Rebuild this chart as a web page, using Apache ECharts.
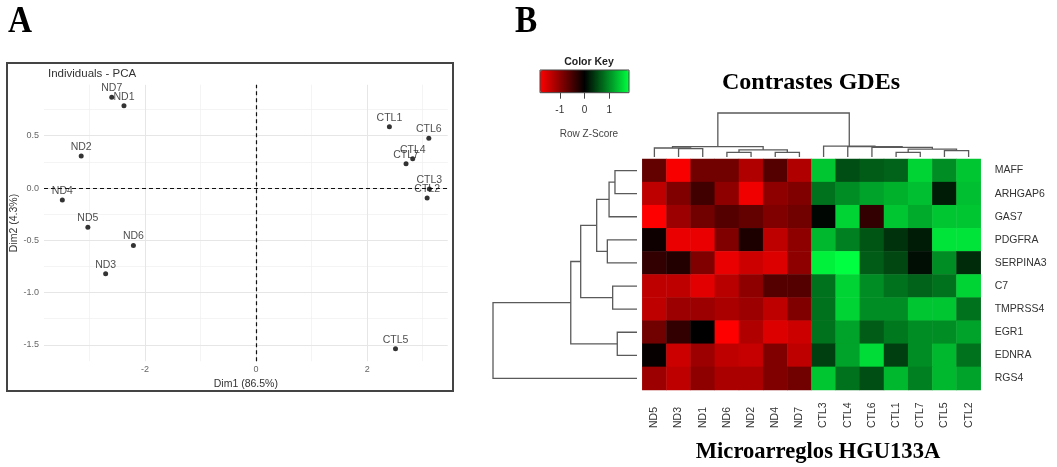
<!DOCTYPE html>
<html><head><meta charset="utf-8">
<script src="https://cdn.jsdelivr.net/npm/echarts@6/dist/echarts.min.js"></script>
<style>html,body{margin:0;padding:0;background:#fff}#c{width:1057px;height:467px}</style>
</head><body><div id="c"></div>
<script>
// ---------- Panel A: PCA ----------
const pcaLabels = ['ND7','ND1','ND2','ND4','ND5','ND6','ND3','CTL1','CTL6','CTL4','CTL7','CTL3','CTL2','CTL5'];
const pcaDim1 = [-2.60,-2.38,-3.15,-3.49,-3.03,-2.21,-2.71,2.40,3.11,2.82,2.70,3.12,3.08,2.51];
const pcaDim2 = [0.867,0.787,0.306,-0.115,-0.376,-0.55,-0.82,0.586,0.475,0.28,0.232,-0.01,-0.096,-1.536];
const pcaXRange = [-3.82, 3.45];
const pcaYRange = [-1.656, 0.987];
const pcaXTicks = [-2, 0, 2];
const pcaYTicks = [-1.5, -1, -0.5, 0, 0.5];
const pcaXMinor = [-3, -1, 1, 3];
const pcaYMinor = [-1.25, -0.75, -0.25, 0.25, 0.75];

// ---------- Panel B: heatmap ----------
const colLabels = ['ND5','ND3','ND1','ND6','ND2','ND4','ND7','CTL3','CTL4','CTL6','CTL1','CTL7','CTL5','CTL2'];
const rowLabels = ['MAFF','ARHGAP6','GAS7','PDGFRA','SERPINA3','C7','TMPRSS4','EGR1','EDNRA','RGS4'];
const zMAFF     = [-0.7,-1.75,-0.8,-0.8,-1.25,-0.6,-1.25, 1.4,0.55,0.65,0.7,1.5,1.0,1.4];
const zARHGAP6  = [-1.35,-0.9,-0.45,-1.0,-1.7,-1.0,-0.9, 0.8,1.0,1.15,1.25,1.35,0.2,1.35];
const zGAS7     = [-1.8,-1.1,-0.8,-0.6,-0.7,-0.9,-0.8, 0.05,1.5,-0.35,1.4,1.2,1.4,1.4];
const zPDGFRA   = [-0.1,-1.65,-1.65,-0.9,-0.2,-1.35,-1.0, 1.3,0.9,0.6,0.35,0.2,1.6,1.6];
const zSERPINA3 = [-0.35,-0.25,-0.9,-1.65,-1.45,-1.55,-1.0, 1.7,1.8,0.65,0.5,0.1,1.0,0.3];
const zC7       = [-1.35,-1.35,-1.6,-1.3,-1.0,-0.6,-0.6, 0.8,1.5,1.0,0.8,0.7,0.8,1.5];
const zTMPRSS4  = [-1.35,-1.1,-1.1,-1.2,-1.1,-1.35,-0.9, 0.8,1.5,1.0,1.0,1.4,1.4,0.8];
const zEGR1     = [-0.8,-0.35,0.0,-1.8,-1.25,-1.55,-1.45, 0.8,1.15,0.65,0.85,1.0,1.0,1.15];
const zEDNRA    = [-0.05,-1.45,-1.1,-1.35,-1.4,-0.9,-1.35, 0.45,1.15,1.55,0.45,1.0,1.3,0.8];
const zRGS4     = [-1.1,-1.35,-1.0,-1.2,-1.2,-0.9,-0.8, 1.4,0.8,0.55,1.3,0.9,1.3,1.15];
const zRows = [zMAFF,zARHGAP6,zGAS7,zPDGFRA,zSERPINA3,zC7,zTMPRSS4,zEGR1,zEDNRA,zRGS4];
const keyRange = [-1.8, 1.8];
const keyTicks = [-1, 0, 1];

// dendrograms (hclust-style merges: negative = leaf in display order, positive = earlier merge)
const colMerge = [[-2,-3],[-1,1],[-4,-5],[-6,-7],[3,4],[2,5],[-11,-12],[-13,-14],[7,8],[-10,9],[-9,10],[-8,11],[6,12]];
const colHeight = [1.9,2.05,1.07,1.07,1.6,2.35,1.07,1.43,1.8,2.2,2.35,2.45,10];
const rowMerge = [[-1,-2],[-3,1],[-4,-5],[2,3],[-6,-7],[4,5],[-8,-9],[6,7],[-10,8]];
const rowHeight = [1.53,1.94,2.06,2.8,1.69,3.91,1.37,4.6,10];

function buildDendro(merge, heights) {
  const pos = [], segs = [];
  const get = (k) => k < 0 ? [-k - 1, 0] : [pos[k - 1], heights[k - 1]];
  merge.forEach((m, i) => {
    const a = get(m[0]), b = get(m[1]);
    pos.push((a[0] + b[0]) / 2);
    segs.push([a[0], a[1], b[0], b[1], heights[i]]);
  });
  return segs;
}
const colSegs = buildDendro(colMerge, colHeight);
const rowSegs = buildDendro(rowMerge, rowHeight);

const heatData = [];
zRows.forEach((r, ri) => r.forEach((v, ci) => heatData.push([ci, ri, v])));

const SANS = '"Liberation Sans", Arial, sans-serif';
const SERIF = '"Liberation Serif", "Times New Roman", serif';
const dendroStyle = {stroke: '#5a5a5a', lineWidth: 1.3, fill: null};

const chart = echarts.init(document.getElementById('c'), null, {renderer: 'canvas'});
const emptyLine = (idx, markData, style) => ({
  type: 'scatter', xAxisIndex: 0, yAxisIndex: 0, data: [], silent: true, z: 1,
  markLine: {silent: true, symbol: ['none','none'], label: {show: false}, animation: false,
    lineStyle: style, data: markData}
});

chart.setOption({
  animation: false,
  textStyle: {fontFamily: SANS},
  title: [
    {text: 'Individuals - PCA', left: 43, top: 63, textStyle: {fontSize: 11.5, fontWeight: 'normal', color: '#333', fontFamily: SANS}},
    {text: 'Contrastes GDEs', left: 806, top: 66, textAlign: 'center', textStyle: {fontSize: 24, fontWeight: 'bold', color: '#000', fontFamily: SERIF}},
    {text: 'Microarreglos HGU133A', left: 813, top: 436, textAlign: 'center', textStyle: {fontSize: 22.6, fontWeight: 'bold', color: '#000', fontFamily: SERIF}},
    {text: 'Color Key', left: 584, top: 52, textAlign: 'center', textStyle: {fontSize: 10.5, fontWeight: 'bold', color: '#222', fontFamily: SANS}},
    {text: 'Row Z-Score', left: 584, top: 124, textAlign: 'center', textStyle: {fontSize: 10, fontWeight: 'normal', color: '#444', fontFamily: SANS}}
  ],
  graphic: [
    {type: 'rect', shape: {x: 7, y: 63, width: 446, height: 328}, style: {stroke: '#444', lineWidth: 2, fill: 'none'}, silent: true},
    {type: 'text', x: 8, y: 4, style: {text: 'A', font: 'bold 37px "Liberation Serif"', fill: '#000'}, scaleX: 0.9, silent: true},
    {type: 'text', x: 515, y: 4, style: {text: 'B', font: 'bold 37px "Liberation Serif"', fill: '#000'}, scaleX: 0.9, silent: true}
  ],
  grid: [
    {left: 44, top: 84.8, width: 403.7, height: 276.4},           // 0 PCA
    {left: 642.3, top: 159, width: 338.4, height: 231},           // 1 heatmap
    {left: 642.3, top: 113, width: 338.4, height: 44},            // 2 col dendro
    {left: 493, top: 159, width: 144, height: 231},               // 3 row dendro
    {left: 540, top: 70, width: 89, height: 22.7, show: true, borderColor: '#444', borderWidth: 1, backgroundColor: 'transparent', z: 10} // 4 key
  ],
  xAxis: [
    {gridIndex: 0, type: 'value', min: pcaXRange[0], max: pcaXRange[1],
      name: 'Dim1 (86.5%)', nameLocation: 'middle', nameGap: 15,
      nameTextStyle: {fontSize: 10.5, color: '#333', fontFamily: SANS},
      axisLine: {show: false}, splitLine: {show: false},
      axisTick: {show: true, customValues: pcaXTicks, length: 3, lineStyle: {color: '#333'}},
      axisLabel: {customValues: pcaXTicks, fontSize: 9, color: '#666', margin: 4}},
    {gridIndex: 1, type: 'category', data: colLabels, position: 'bottom',
      axisLine: {show: false}, axisTick: {show: false}, splitLine: {show: false},
      axisLabel: {rotate: 90, align: 'left', margin: 38, fontSize: 10.5, color: '#333', interval: 0}},
    {gridIndex: 2, type: 'value', min: -0.5, max: colLabels.length - 0.5, show: false},
    {gridIndex: 3, type: 'value', min: 0, max: 10, inverse: true, show: false},
    {gridIndex: 4, type: 'value', min: keyRange[0], max: keyRange[1],
      axisLine: {show: false}, splitLine: {show: false},
      axisTick: {show: true, customValues: keyTicks, length: 6, lineStyle: {color: '#444'}},
      axisLabel: {customValues: keyTicks, fontSize: 10, color: '#333', margin: 13}}
  ],
  yAxis: [
    {gridIndex: 0, type: 'value', min: pcaYRange[0], max: pcaYRange[1],
      name: 'Dim2 (4.3%)', nameLocation: 'middle', nameGap: 20,
      nameTextStyle: {fontSize: 10.5, color: '#333', fontFamily: SANS},
      axisLine: {show: false}, splitLine: {show: false},
      axisTick: {show: true, customValues: pcaYTicks, length: 3, lineStyle: {color: '#333'}},
      axisLabel: {customValues: pcaYTicks, fontSize: 9, color: '#666', margin: 5, formatter: v => v.toFixed(1)}},
    {gridIndex: 1, type: 'category', data: rowLabels, inverse: true, position: 'right',
      axisLine: {show: false}, axisTick: {show: false}, splitLine: {show: false},
      axisLabel: {margin: 14, fontSize: 10.5, color: '#333', interval: 0}},
    {gridIndex: 2, type: 'value', min: 0, max: 10, show: false},
    {gridIndex: 3, type: 'value', min: -0.5, max: rowLabels.length - 0.5, inverse: true, show: false},
    {gridIndex: 4, type: 'value', min: 0, max: 1, show: false}
  ],
  visualMap: {
    type: 'continuous', seriesIndex: 5, min: keyRange[0], max: keyRange[1],
    orient: 'horizontal', left: 540, top: 70, itemWidth: 22.7, itemHeight: 89,
    calculable: false, padding: 0, hoverLink: false,
    inRange: {color: ['#ff0000', '#000000', '#00ff40']}
  },
  series: [
    emptyLine(0, pcaXMinor.map(v => ({xAxis: v})).concat(pcaYMinor.map(v => ({yAxis: v}))), {color: '#efefef', width: 0.7, type: 'solid'}),
    emptyLine(0, pcaXTicks.map(v => ({xAxis: v})).concat(pcaYTicks.map(v => ({yAxis: v}))), {color: '#e6e6e6', width: 1, type: 'solid'}),
    emptyLine(0, [{xAxis: 0}, {yAxis: 0}], {color: '#111', width: 1.2, type: [4, 3]}),
    {type: 'scatter', xAxisIndex: 0, yAxisIndex: 0, symbolSize: 5, z: 5,
      itemStyle: {color: '#000'},
      data: pcaLabels.map((n, i) => ({name: n, value: [pcaDim1[i], pcaDim2[i]]})),
      label: {show: true, position: 'top', distance: 1, formatter: p => p.name, fontSize: 10.5, color: '#222', fontFamily: SANS},
      labelLayout: {hideOverlap: false}},
    {type: 'scatter', xAxisIndex: 4, yAxisIndex: 4, data: [], silent: true},
    {type: 'heatmap', xAxisIndex: 1, yAxisIndex: 1, data: heatData, itemStyle: {borderWidth: 0}, emphasis: {disabled: true}, progressive: 0},
    {type: 'custom', xAxisIndex: 2, yAxisIndex: 2, data: colSegs, silent: true,
      renderItem: (params, api) => {
        const pts = [api.coord([api.value(0), api.value(1)]), api.coord([api.value(0), api.value(4)]),
                     api.coord([api.value(2), api.value(4)]), api.coord([api.value(2), api.value(3)])];
        return {type: 'polyline', shape: {points: pts}, style: dendroStyle};
      }},
    {type: 'custom', xAxisIndex: 3, yAxisIndex: 3, data: rowSegs, silent: true,
      renderItem: (params, api) => {
        const pts = [api.coord([api.value(1), api.value(0)]), api.coord([api.value(4), api.value(0)]),
                     api.coord([api.value(4), api.value(2)]), api.coord([api.value(3), api.value(2)])];
        return {type: 'polyline', shape: {points: pts}, style: dendroStyle};
      }}
  ]
});
</script></body></html>
